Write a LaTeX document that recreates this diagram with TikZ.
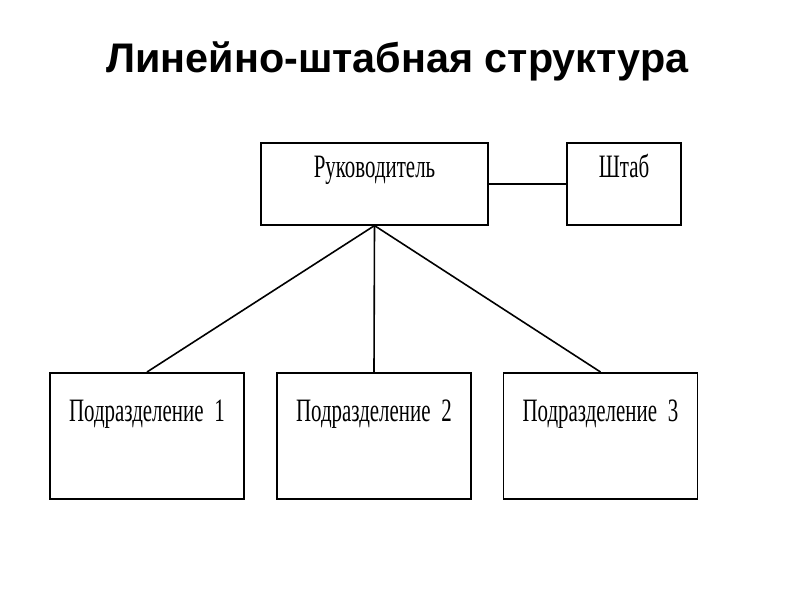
\documentclass[tikz,border=0pt]{standalone}
\usepackage{fontspec}
\setmainfont{Liberation Serif}
\newfontfamily\titlefont{Liberation Sans}
\newfontfamily\boxfont[FakeStretch=0.64,WordSpace=0.3]{Liberation Serif}
\begin{document}
\begin{tikzpicture}[x=0.75pt,y=-0.75pt,
    unitbox/.style={draw,line width=1.2pt,inner sep=0pt,align=center,
      font=\boxfont\fontsize{24.5}{28}\selectfont},
    topbox/.style={unitbox,text width=#1,text height=26.25pt,text depth=35.25pt},
    lowbox/.style={unitbox,text width=145.5pt,text height=36.75pt,text depth=57.75pt},
    link/.style={line width=1.2pt}]
  \useasboundingbox (0,0) rectangle (800,600);
  \node[anchor=base,font=\titlefont\bfseries\fontsize{31}{36}\selectfont] (title) at (397.5,72) {Линейно-штабная структура};
  \node[topbox=170pt,anchor=north] (boss) at (374.5,142) {Руководитель};
  \node[topbox=85.5pt,anchor=north] (staff) at (624,142) {Штаб};
  \node[lowbox,anchor=north] (unit1) at (147,372) {Подразделение 1};
  \node[lowbox,anchor=north] (unit2) at (374,372) {Подразделение 2};
  \node[lowbox,anchor=north] (unit3) at (600.5,372) {Подразделение 3};
  \draw[link] (boss) -- (staff);
  \draw[link] (boss.south) -- (unit1.north);
  \draw[link] (boss.south) -- (unit2.north);
  \draw[link] (boss.south) -- (unit3.north);
\end{tikzpicture}
\end{document}
